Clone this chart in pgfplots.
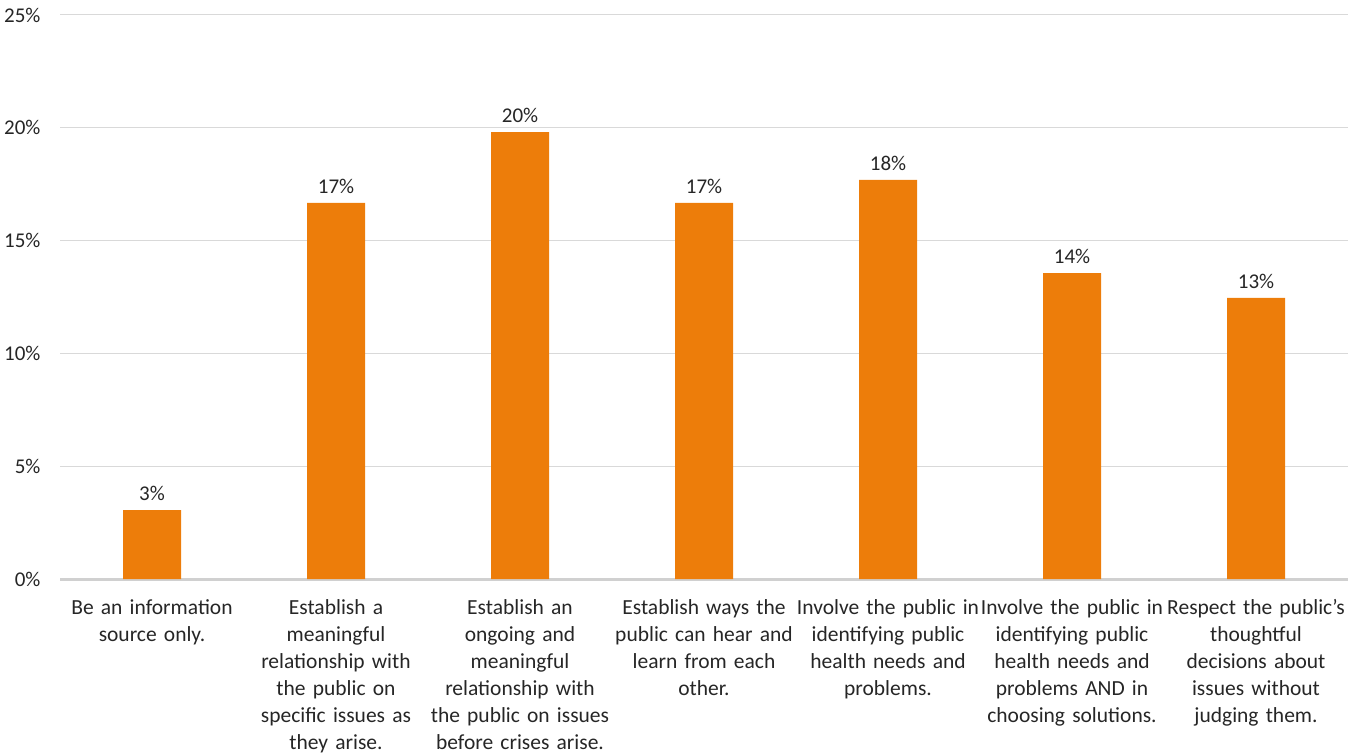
\documentclass[border=0pt]{standalone}
\usepackage{pgfplots}
\pgfplotsset{compat=1.18}
\usepackage{fontspec}
\setmainfont{Carlito}
\definecolor{barorange}{RGB}{237,125,10}
\definecolor{gridgray}{RGB}{217,217,217}
\definecolor{axisgray}{RGB}{208,208,208}
\definecolor{txt}{RGB}{38,38,38}
\begin{document}
\begin{tikzpicture}
\begin{axis}[
  scale only axis,
  width=1288bp, height=564bp,
  xmin=-0.5, xmax=6.5,
  ymin=0, ymax=25,
  ytick={0,5,10,15,20,25},
  yticklabel={\pgfmathprintnumber{\tick}\%},
  /pgf/number format/assume math mode=true,
  ymajorgrids,
  grid style={gridgray, line width=1bp},
  axis x line*=bottom,
  axis y line*=left,
  y axis line style={draw=none},
  x axis line style={axisgray, line width=3bp, -},
  xtick={0,...,6},
  major tick length=0pt,
  xticklabels={
    {Be an information\\source only.},
    {Establish a\\meaningful\\relationship with\\the public on\\specific issues as\\they arise.},
    {Establish an\\ongoing and\\meaningful\\relationship with\\the public on issues\\before crises arise.},
    {Establish ways the\\public can hear and\\learn from each\\other.},
    {Involve the public in\\identifying public\\health needs and\\problems.},
    {Involve the public in\\identifying public\\health needs and\\problems AND in\\choosing solutions.},
    {Respect the public’s\\thoughtful\\decisions about\\issues without\\judging them.}
  },
  xticklabel style={text width=200bp, align=center, font=\fontsize{21.5bp}{27bp}\selectfont, text=txt, anchor=north, yshift=-20bp, inner sep=0pt},
  yticklabel style={font=\fontsize{21bp}{24bp}\selectfont, text=txt, anchor=east, xshift=-16bp},
  ybar, bar width=58bp,
  nodes near coords,
  point meta=explicit symbolic,
  nodes near coords style={font=\fontsize{21bp}{24bp}\selectfont, text=txt, yshift=6bp},
  clip=false,
]
\addplot[fill=barorange, draw=none] coordinates {
  (0,3.06) [3\%]
  (1,16.67) [17\%]
  (2,19.81) [20\%]
  (3,16.67) [17\%]
  (4,17.69) [18\%]
  (5,13.56) [14\%]
  (6,12.46) [13\%]
};
\end{axis}
\path[use as bounding box] ([xshift=-60bp,yshift=-176bp]current axis.south west) rectangle ([xshift=9bp,yshift=15bp]current axis.north east);
\end{tikzpicture}
\end{document}
